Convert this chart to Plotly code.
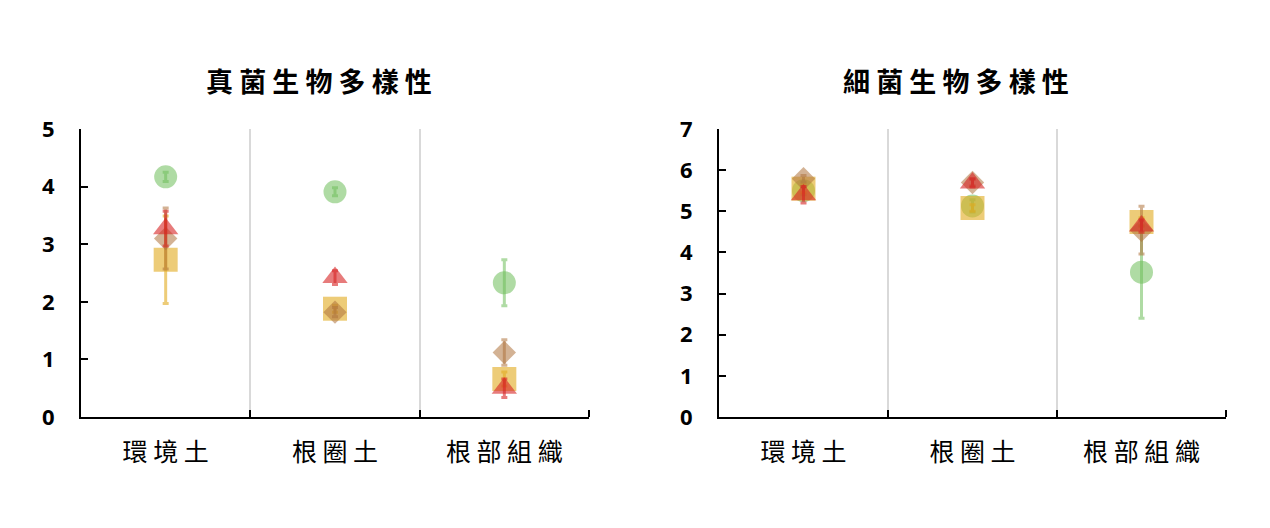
import plotly.graph_objects as go

categories = ["環境土", "根圈土", "根部組織"]
cat_labels = [" ".join(c) for c in categories]

# Fungal diversity (left panel)
fungi_green = [4.17, 3.91, 2.33]
fungi_green_err = [0.08, 0.07, 0.40]
fungi_yellow = [2.73, 1.88, 0.66]
fungi_yellow_err = [0.76, 0.06, 0.12]
fungi_brown = [3.10, 1.82, 1.12]
fungi_brown_err = [0.53, 0.08, 0.22]
fungi_red = [3.27, 2.42, 0.50]
fungi_red_err = [0.30, 0.12, 0.16]

# Bacterial diversity (right panel)
bact_green = [5.50, 5.13, 3.52]
bact_green_err = [0.10, 0.15, 1.12]
bact_yellow = [5.55, 5.08, 4.74]
bact_yellow_err = [0.10, 0.08, 0.10]
bact_brown = [5.79, 5.70, 4.54]
bact_brown_err = [0.08, 0.08, 0.58]
bact_red = [5.40, 5.69, 4.64]
bact_red_err = [0.20, 0.10, 0.15]

titles = ["真菌生物多樣性", "細菌生物多樣性"]
y_max = [5, 7]

styles = [
    ("circle", 23, "rgba(110,190,90,0.55)"),
    ("square", 24, "rgba(225,170,30,0.6)"),
    ("diamond", 18, "rgba(175,115,60,0.55)"),
    ("triangle-up", 22, "rgba(215,35,35,0.6)"),
]

xpos = [0, 1, 2]
fig = go.Figure()

panels = [
    ([fungi_green, fungi_yellow, fungi_brown, fungi_red],
     [fungi_green_err, fungi_yellow_err, fungi_brown_err, fungi_red_err], "x", "y"),
    ([bact_green, bact_yellow, bact_brown, bact_red],
     [bact_green_err, bact_yellow_err, bact_brown_err, bact_red_err], "x2", "y2"),
]

for vals, errs, xa, ya in panels:
    for (sym, size, col), v, e in zip(styles, vals, errs):
        fig.add_trace(go.Scatter(
            x=xpos, y=v, mode="markers", xaxis=xa, yaxis=ya,
            marker=dict(symbol=sym, size=size, color=col, line=dict(width=0)),
            error_y=dict(type="data", array=e, visible=True, color=col,
                         thickness=3, width=3),
            showlegend=False, hoverinfo="skip",
        ))

W, H = 1270, 528
OX, OY = 7, 8  # page body offset
dom_left = [(80 - OX) / W, (588 - OX) / W]
dom_right = [(718 - OX) / W, (1225 - OX) / W]
ydom = [(H - (417 - OY)) / H, (H - (129 - OY)) / H]

def xaxis_cfg(dom, anchor):
    return dict(
        domain=dom, anchor=anchor, range=[-0.5, 2.5], automargin=False,
        tickmode="array", tickvals=xpos, ticktext=cat_labels, ticks="",
        showgrid=False, zeroline=False, showline=True, linecolor="black", linewidth=2,
        tickfont=dict(family="Noto Sans CJK TC", size=25, color="black"),
        ticklabelstandoff=12,
        minor=dict(tickmode="array", tickvals=[0.5, 1.5, 2.5], ticks="inside",
                   ticklen=7, tickwidth=2, tickcolor="black",
                   showgrid=True, gridcolor="#d9d9d9", gridwidth=1.5),
    )

def yaxis_cfg(anchor, ymax):
    return dict(
        domain=ydom, anchor=anchor, range=[0, ymax], automargin=False,
        tickmode="linear", tick0=0, dtick=1,
        ticks="inside", ticklen=7, tickwidth=2, tickcolor="black",
        showgrid=False, zeroline=False, showline=True, linecolor="black", linewidth=2,
        tickfont=dict(family="Open Sans", size=22, color="black", weight="bold"),
        ticklabelstandoff=20,
    )

fig.update_layout(
    width=W, height=H, margin=dict(l=0, r=0, t=0, b=0, autoexpand=False),
    paper_bgcolor="white", plot_bgcolor="white",
    xaxis=xaxis_cfg(dom_left, "y"), yaxis=yaxis_cfg("x", y_max[0]),
    xaxis2=xaxis_cfg(dom_right, "y2"), yaxis2=yaxis_cfg("x2", y_max[1]),
)

for t, cx in zip(titles, [318, 955]):
    fig.add_annotation(
        text=" ".join(t), x=(cx - OX) / W, y=(H - (80 - OY)) / H,
        xref="paper", yref="paper",
        showarrow=False, xanchor="center", yanchor="middle",
        font=dict(family="Noto Sans CJK TC", size=27, color="black", weight="bold"),
    )

fig.write_html("out.html")
